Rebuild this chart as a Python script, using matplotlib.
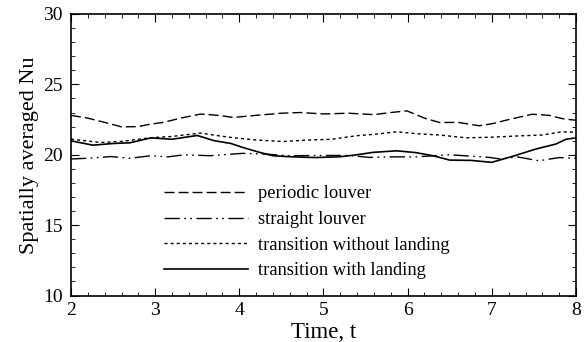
import numpy as np
import matplotlib
matplotlib.use("Agg")
import matplotlib.pyplot as plt
from matplotlib.ticker import MultipleLocator

# readings
t_per = [2.0, 2.2, 2.4, 2.6, 2.8, 2.95, 3.1, 3.3, 3.54, 3.75, 3.93, 4.2, 4.5, 4.72, 5.0, 5.3, 5.6, 5.8, 5.99, 6.2, 6.38, 6.6, 6.85, 7.0, 7.2, 7.48, 7.68, 7.85, 8.0]
nu_per = [22.8, 22.6, 22.3, 21.98, 22.0, 22.18, 22.3, 22.6, 22.89, 22.8, 22.65, 22.8, 22.95, 23.0, 22.9, 22.95, 22.85, 23.0, 23.12, 22.6, 22.29, 22.3, 22.06, 22.2, 22.5, 22.88, 22.8, 22.55, 22.45]

t_str = [2.0, 2.2, 2.47, 2.7, 2.95, 3.15, 3.35, 3.65, 4.04, 4.3, 4.6, 5.0, 5.3, 5.55, 5.8, 6.1, 6.5, 6.75, 6.97, 7.1, 7.3, 7.56, 7.8, 8.0]
nu_str = [19.7, 19.75, 19.87, 19.75, 19.93, 19.85, 20.0, 19.93, 20.1, 20.05, 19.93, 19.95, 19.95, 19.81, 19.85, 19.85, 20.0, 19.9, 19.81, 19.7, 19.85, 19.57, 19.8, 19.75]

t_wo = [2.0, 2.35, 2.6, 2.95, 3.2, 3.54, 3.75, 3.93, 4.2, 4.52, 4.8, 5.1, 5.39, 5.6, 5.87, 6.1, 6.38, 6.7, 7.0, 7.36, 7.6, 7.83, 8.0]
nu_wo = [21.11, 20.87, 20.95, 21.21, 21.3, 21.54, 21.35, 21.21, 21.05, 20.94, 21.04, 21.1, 21.35, 21.45, 21.63, 21.5, 21.4, 21.2, 21.25, 21.35, 21.4, 21.63, 21.6]

t_with = [2.0, 2.26, 2.5, 2.7, 2.95, 3.2, 3.5, 3.7, 3.9, 4.04, 4.24, 4.4, 4.6, 4.9, 5.2, 5.4, 5.59, 5.87, 6.1, 6.3, 6.5, 6.75, 7.0, 7.27, 7.52, 7.76, 7.88, 8.0]
nu_with = [20.99, 20.68, 20.8, 20.85, 21.2, 21.1, 21.37, 21.0, 20.8, 20.52, 20.17, 19.93, 19.86, 19.8, 19.86, 20.0, 20.17, 20.28, 20.15, 19.93, 19.62, 19.6, 19.46, 19.93, 20.4, 20.76, 21.1, 21.2]

plt.rcParams['font.family'] = ['Liberation Serif', 'DejaVu Serif']

fig = plt.figure(figsize=(5.86, 3.42), dpi=100)
ax = fig.add_axes([71/586, 1-295.5/342, 505/586, 281.5/342])

ax.plot(t_per, nu_per, color='black', lw=1.0, ls=(0, (7.2, 2.9)), label='periodic louver')
ax.plot(t_str, nu_str, color='black', lw=1.0, ls=(0, (11, 3.2, 1.2, 3.2, 1.2, 3.2)), label='straight louver')
ax.plot(t_wo, nu_wo, color='black', lw=1.0, ls=(0, (2.2, 2.2)), label='transition without landing')
ax.plot(t_with, nu_with, color='black', lw=1.2, ls='-', label='transition with landing')

ax.set_xlim(2, 8)
ax.set_ylim(10, 30)
ax.xaxis.set_major_locator(MultipleLocator(1))
ax.xaxis.set_minor_locator(MultipleLocator(0.2))
ax.yaxis.set_major_locator(MultipleLocator(5))
ax.yaxis.set_minor_locator(MultipleLocator(1))
ax.tick_params(which='both', direction='in', top=True, right=True, labelsize=14)
ax.tick_params(axis='x', pad=5)
ax.tick_params(axis='y', pad=6)
ax.tick_params(which='major', length=6)
ax.tick_params(which='minor', length=3)
for s in ax.spines.values():
    s.set_linewidth(1.2)

ax.set_xlabel('Time, t', fontsize=16.5, labelpad=2)
ax.set_ylabel('Spatially averaged Nu', fontsize=16, labelpad=3)

ax.legend(loc='center left', bbox_to_anchor=(0.184, 0.224), frameon=False, fontsize=13.3,
          handlelength=4.55, handletextpad=0.55, labelspacing=0.47, borderpad=0, borderaxespad=0)

fig.savefig('out.png', dpi=100)
